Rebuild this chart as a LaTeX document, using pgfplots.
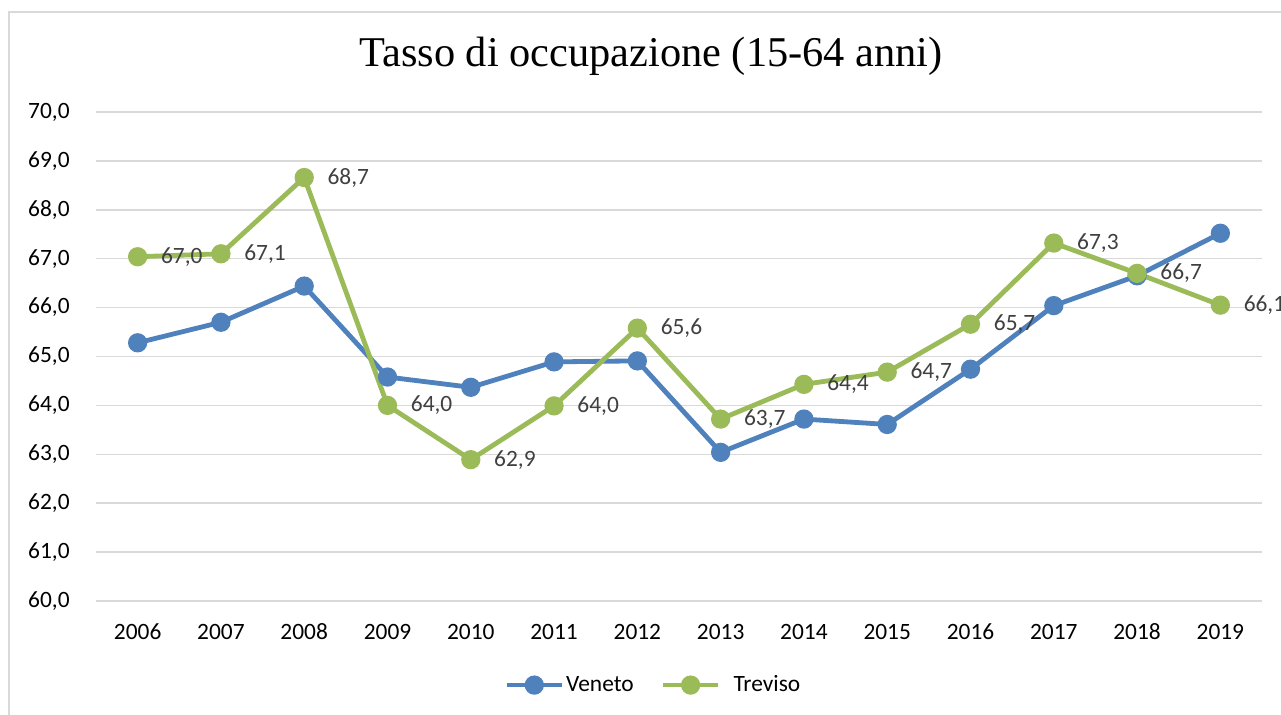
\documentclass[border=0pt]{standalone}
\usepackage{pgfplots}
\pgfplotsset{compat=1.18}
\usepackage{fontspec}
\setmainfont{Carlito}
\newfontfamily\titlefont{Liberation Serif}
\definecolor{veneto}{HTML}{4F81BD}
\definecolor{treviso}{HTML}{9BBB59}
\definecolor{gridgray}{HTML}{D9D9D9}
\definecolor{labelgray}{HTML}{404040}
\begin{document}
\begin{tikzpicture}[x=1pt,y=1pt]
\useasboundingbox (0,0) rectangle (640.5,357.5);
\fill[white] (0,0) rectangle (640.5,357.5);
\draw[gridgray, line width=0.9pt] (4.5,0) -- (4.5,351.5) -- (640.5,351.5);
\node[anchor=base, font=\titlefont\fontsize{21.2}{25}\selectfont] at (325.5,324) {Tasso di occupazione (15-64 anni)};
\begin{axis}[
  at={(48pt,57pt)}, anchor=south west,
  scale only axis, width=583pt, height=244.5pt,
  xmin=-0.5, xmax=13.5, ymin=60, ymax=70,
  xtick={0,...,13},
  xticklabels={2006,2007,2008,2009,2010,2011,2012,2013,2014,2015,2016,2017,2018,2019},
  ytick={60,61,...,70},
  /pgf/number format/fixed,
  /pgf/number format/fixed zerofill,
  /pgf/number format/precision=1,
  /pgf/number format/use comma,
  /pgf/number format/assume math mode=true,
  ymajorgrids, grid style={gridgray, line width=0.75pt},
  axis line style={draw=none}, tick style={draw=none},
  tick label style={font=\fontsize{11.7}{14}\selectfont, text=black},
  yticklabel style={anchor=east, inner sep=0pt, xshift=-13pt},
  xticklabel style={anchor=north, inner sep=0pt, yshift=-11.5pt, text height=7.6pt, text depth=0pt},
  clip=false,
  legend columns=2,
  legend style={at={(0.478,-0.172)}, anchor=center, draw=none, fill=none,
    font=\fontsize{11.7}{14}\selectfont,
    /tikz/every even column/.append style={column sep=12.5pt},
    nodes={inner sep=1pt}},
  legend image code/.code={\draw[#1, mark repeat=2, mark phase=2] plot coordinates {(0pt,0pt) (13.75pt,0pt) (27.5pt,0pt)};},
]
\addplot[veneto, line width=2.4pt, mark=*, mark size=3.6pt, mark options={fill=veneto, draw=none}]
  coordinates {(0,65.28) (1,65.70) (2,66.44) (3,64.58) (4,64.37) (5,64.89) (6,64.91) (7,63.04) (8,63.72) (9,63.61) (10,64.74) (11,66.04) (12,66.65) (13,67.52)};
\addlegendentry{Veneto}
\addplot[treviso, line width=2.4pt, mark=*, mark size=3.6pt, mark options={fill=treviso, draw=none},
  point meta=explicit symbolic, nodes near coords,
  every node near coord/.append style={anchor=west, inner sep=0pt, xshift=10.5pt, text=labelgray, font=\fontsize{11.7}{14}\selectfont}]
  coordinates {(0,67.04) [67,0] (1,67.10) [67,1] (2,68.66) [68,7] (3,64.00) [64,0] (4,62.89) [62,9] (5,63.99) [64,0] (6,65.58) [65,6] (7,63.72) [63,7] (8,64.43) [64,4] (9,64.68) [64,7] (10,65.66) [65,7] (11,67.32) [67,3] (12,66.70) [66,7] (13,66.05) [66,1]};
\addlegendentry{\hspace{5.5pt}Treviso}
\end{axis}
\end{tikzpicture}
\end{document}
